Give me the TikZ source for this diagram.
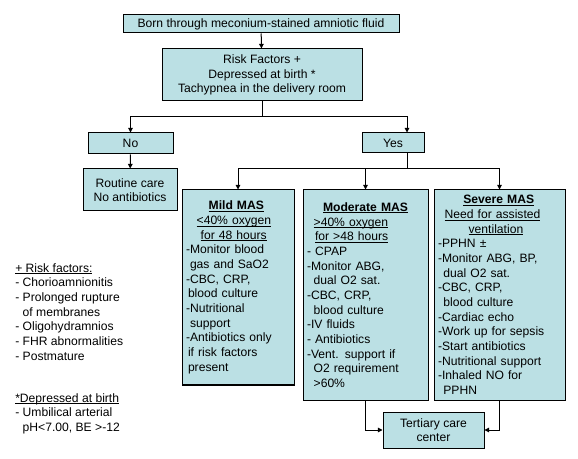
\documentclass[tikz,border=0pt]{standalone}
\usepackage{fontspec}
\setmainfont{Liberation Sans}
\usetikzlibrary{arrows.meta}
\definecolor{boxfill}{RGB}{187,224,228}
\newcommand{\itemline}[1]{\makebox[\linewidth][l]{#1}}
\newcommand{\undl}[1]{\leavevmode\setbox0\hbox{#1}\rlap{\rule[-1.5pt]{\wd0}{0.7pt}}\box0}

\tikzset{
  box/.style={draw=black, line width=0.75pt, fill=boxfill, inner sep=0pt, align=center},
  listbox/.style={box, inner xsep=3pt},
  arr/.style={line width=0.75pt, -{Triangle[length=3.5pt,width=3.5pt]}},
  link/.style={line width=0.75pt},
}

\begin{document}
\begin{tikzpicture}[x=0.75pt, y=-0.75pt, font=\fontsize{9.1}{11}\selectfont]
  \useasboundingbox (0,0) rectangle (578,459);
  % top
  \node[box, minimum width=207pt, minimum height=13.5pt] (born) at (261,24) {Born through meconium-stained amniotic fluid};
  \node[box, minimum width=150pt, minimum height=39pt] (risk) at (262,75) {Risk Factors +\\ Depressed at birth *\\ Tachypnea in the delivery room};
  % level 1
  \node[box, minimum width=63.75pt, minimum height=15.75pt] (no) at (130.5,143.5) {No};
  \node[box, minimum width=46.5pt, minimum height=15pt] (yes) at (393,143) {Yes};
  \node[box, minimum width=70.5pt, minimum height=31.5pt] (routine) at (130,190) {Routine care\\ No antibiotics};
  % level 2
  \node[listbox, text width=78pt, minimum height=146.25pt] (mild) at (238,287.5) {%
    \itemline{\hspace{17pt}\undl{\textbf{Mild MAS}}}\\
    \itemline{\hspace{8pt}\undl{<40\% oxygen}}\\
    \itemline{\hspace{11pt}\undl{for 48 hours}}\\
    \itemline{-Monitor blood}\\
    \itemline{\hspace{3pt}gas and SaO2}\\
    \itemline{-CBC, CRP,}\\
    \itemline{\hspace{1.5pt}blood culture}\\
    \itemline{-Nutritional}\\
    \itemline{\hspace{3pt}support}\\
    \itemline{-Antibiotics only}\\
    \itemline{\hspace{1.5pt}if risk factors}\\
    \itemline{\hspace{1.5pt}present}};
  \node[listbox, text width=87.75pt, minimum height=157.5pt] (moderate) at (365.5,295) {%
    \undl{\textbf{Moderate MAS}}\\
    \itemline{\hspace{5pt}\undl{>40\% oxygen}}\\
    \itemline{\hspace{6pt}\undl{for >48 hours}}\\
    \itemline{- CPAP}\\
    \itemline{-Monitor ABG,}\\
    \itemline{\hspace{5pt}dual O2 sat.}\\
    \itemline{-CBC, CRP,}\\
    \itemline{\hspace{5pt}blood culture}\\
    \itemline{-IV fluids}\\
    \itemline{- Antibiotics}\\
    \itemline{-Vent. support if}\\
    \itemline{\hspace{5pt}O2 requirement}\\
    \itemline{\hspace{5pt}>60\%}};
  \node[listbox, text width=92.25pt, minimum height=157.5pt] (severe) at (499.5,295) {%
    \itemline{\hspace{19pt}\undl{\textbf{Severe MAS}}}\\
    \itemline{\hspace{5pt}\undl{Need for assisted}}\\
    \itemline{\hspace{23pt}\undl{ventilation}}\\
    \itemline{-PPHN ±}\\
    \itemline{-Monitor ABG, BP,}\\
    \itemline{\hspace{4pt}dual O2 sat.}\\
    \itemline{-CBC, CRP,}\\
    \itemline{\hspace{4pt}blood culture}\\
    \itemline{-Cardiac echo}\\
    \itemline{-Work up for sepsis}\\
    \itemline{-Start antibiotics}\\
    \itemline{-Nutritional support}\\
    \itemline{-Inhaled NO for}\\
    \itemline{\hspace{4pt}PPHN}};
  % level 3
  \node[box, minimum width=75.75pt, minimum height=27pt] (tertiary) at (433.5,430) {Tertiary care\\ center};
  % notes
  \node[anchor=north west, inner sep=0pt, align=left] (riskleg) at (15,263) {%
    \undl{+ Risk factors:}\\
    - Chorioamnionitis\\
    - Prolonged rupture\\
    \phantom{- }of membranes\\
    - Oligohydramnios\\
    - FHR abnormalities\\
    - Postmature};
  \node[anchor=north west, inner sep=0pt, align=left] (birthleg) at (15,393) {%
    \undl{*Depressed at birth}\\
    - Umbilical arterial\\
    \phantom{- }pH<7.00, BE >-12};

  % connectors
  \coordinate (split1) at (262,117);
  \coordinate (split2) at (407,169);
  \draw[arr] (born) -- (risk);
  \draw[link] (risk) -- (split1);
  \draw[arr] (split1) -| (no);
  \draw[arr] (split1) -| ([xshift=10.5pt]yes.north);
  \draw[arr] (no) -- (routine);
  \draw[link] ([xshift=10.5pt]yes.south) -- (split2);
  \draw[arr] (split2) -| (mild);
  \draw[arr] (split2) -| (moderate);
  \draw[arr] (split2) -| (severe);
  \draw[arr] (moderate) |- (tertiary);
  \draw[arr] (severe) |- (tertiary);
\end{tikzpicture}
\end{document}
